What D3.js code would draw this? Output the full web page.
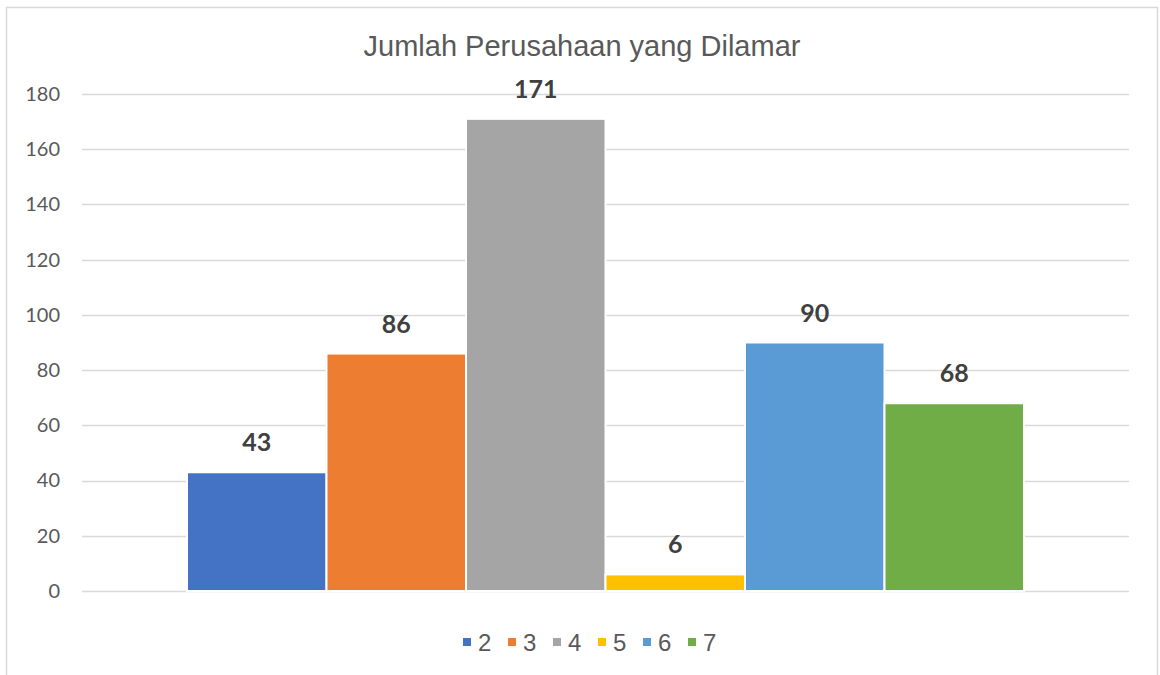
<!DOCTYPE html>
<html>
<head>
<meta charset="utf-8">
<script src="https://cdn.jsdelivr.net/npm/d3@7"></script>
<style>
  body { margin: 0; background: #fff; }
</style>
</head>
<body>
<div id="chart"></div>
<script>
var w = 1160, h = 675;

// data
var titleText = 'Jumlah Perusahaan yang Dilamar';
var seriesNames = ['2', '3', '4', '5', '6', '7'];
var seriesValues = [43, 86, 171, 6, 90, 68];
var seriesColors = ['#4472c4', '#ed7d31', '#a5a5a5', '#ffc000', '#5b9bd5', '#70ad47'];
var yTicks = [0, 20, 40, 60, 80, 100, 120, 140, 160, 180];

var svg = d3.select('#chart').append('svg')
  .attr('width', w)
  .attr('height', h);

// outer chart border
svg.append('rect')
  .attr('x', 6.5).attr('y', 7.5)
  .attr('width', 1151).attr('height', 700)
  .attr('fill', '#fff')
  .attr('stroke', '#d9d9d9')
  .attr('stroke-width', 1.5);

var plot = { left: 82, right: 1129, top: 94, bottom: 591 };

var y = d3.scaleLinear()
  .domain([0, 180])
  .range([plot.bottom, plot.top]);

// one category, six series -> bars side by side, centered
var x = d3.scaleBand()
  .domain(seriesNames)
  .range([187, 1024])
  .paddingInner(0)
  .paddingOuter(0);

// gridlines
svg.append('g')
  .selectAll('line')
  .data(yTicks)
  .enter().append('line')
  .attr('x1', plot.left)
  .attr('x2', plot.right)
  .attr('y1', function(d) { return Math.round(y(d)) + 0.5; })
  .attr('y2', function(d) { return Math.round(y(d)) + 0.5; })
  .attr('stroke', '#d9d9d9')
  .attr('stroke-width', 1.3);

// y axis labels
var yAxis = d3.axisLeft(y)
  .tickValues(yTicks)
  .tickSize(0)
  .tickPadding(0);

var yg = svg.append('g')
  .attr('transform', 'translate(60,0)')
  .call(yAxis);
yg.select('.domain').remove();
yg.selectAll('text')
  .attr('fill', '#595959')
  .style('font-family', 'Lato, "Open Sans", sans-serif')
  .style('font-size', '20px');

// bars
svg.append('g')
  .selectAll('rect')
  .data(seriesValues)
  .enter().append('rect')
  .attr('x', function(d, i) { return x(seriesNames[i]); })
  .attr('y', function(d) { return y(d); })
  .attr('width', x.bandwidth())
  .attr('height', function(d) { return y(0) - y(d); })
  .attr('fill', function(d, i) { return seriesColors[i]; })
  .attr('stroke', '#fff')
  .attr('stroke-width', 2);

// data labels
svg.append('g')
  .selectAll('text')
  .data(seriesValues)
  .enter().append('text')
  .attr('x', function(d, i) { return x(seriesNames[i]) + x.bandwidth() / 2; })
  .attr('y', function(d) { return y(d) - 21; })
  .attr('text-anchor', 'middle')
  .attr('fill', '#404040')
  .style('font-family', 'Lato, "Open Sans", sans-serif')
  .style('font-weight', 'bold')
  .style('font-size', '25px')
  .text(function(d) { return d; });

// title
svg.append('text')
  .attr('x', 582)
  .attr('y', 56)
  .attr('text-anchor', 'middle')
  .attr('fill', '#595959')
  .style('font-family', '"Liberation Sans", Arial, sans-serif')
  .style('font-size', '29px')
  .text(titleText);

// legend
var legend = svg.append('g')
  .selectAll('g')
  .data(seriesNames)
  .enter().append('g')
  .attr('transform', function(d, i) { return 'translate(' + (463 + i * 45) + ',0)'; });

legend.append('rect')
  .attr('x', 0).attr('y', 638)
  .attr('width', 8).attr('height', 8)
  .attr('fill', function(d, i) { return seriesColors[i]; });

legend.append('text')
  .attr('x', 15)
  .attr('y', 651)
  .attr('fill', '#595959')
  .style('font-family', '"Liberation Sans", Arial, sans-serif')
  .style('font-size', '24px')
  .text(function(d) { return d; });
</script>
</body>
</html>
